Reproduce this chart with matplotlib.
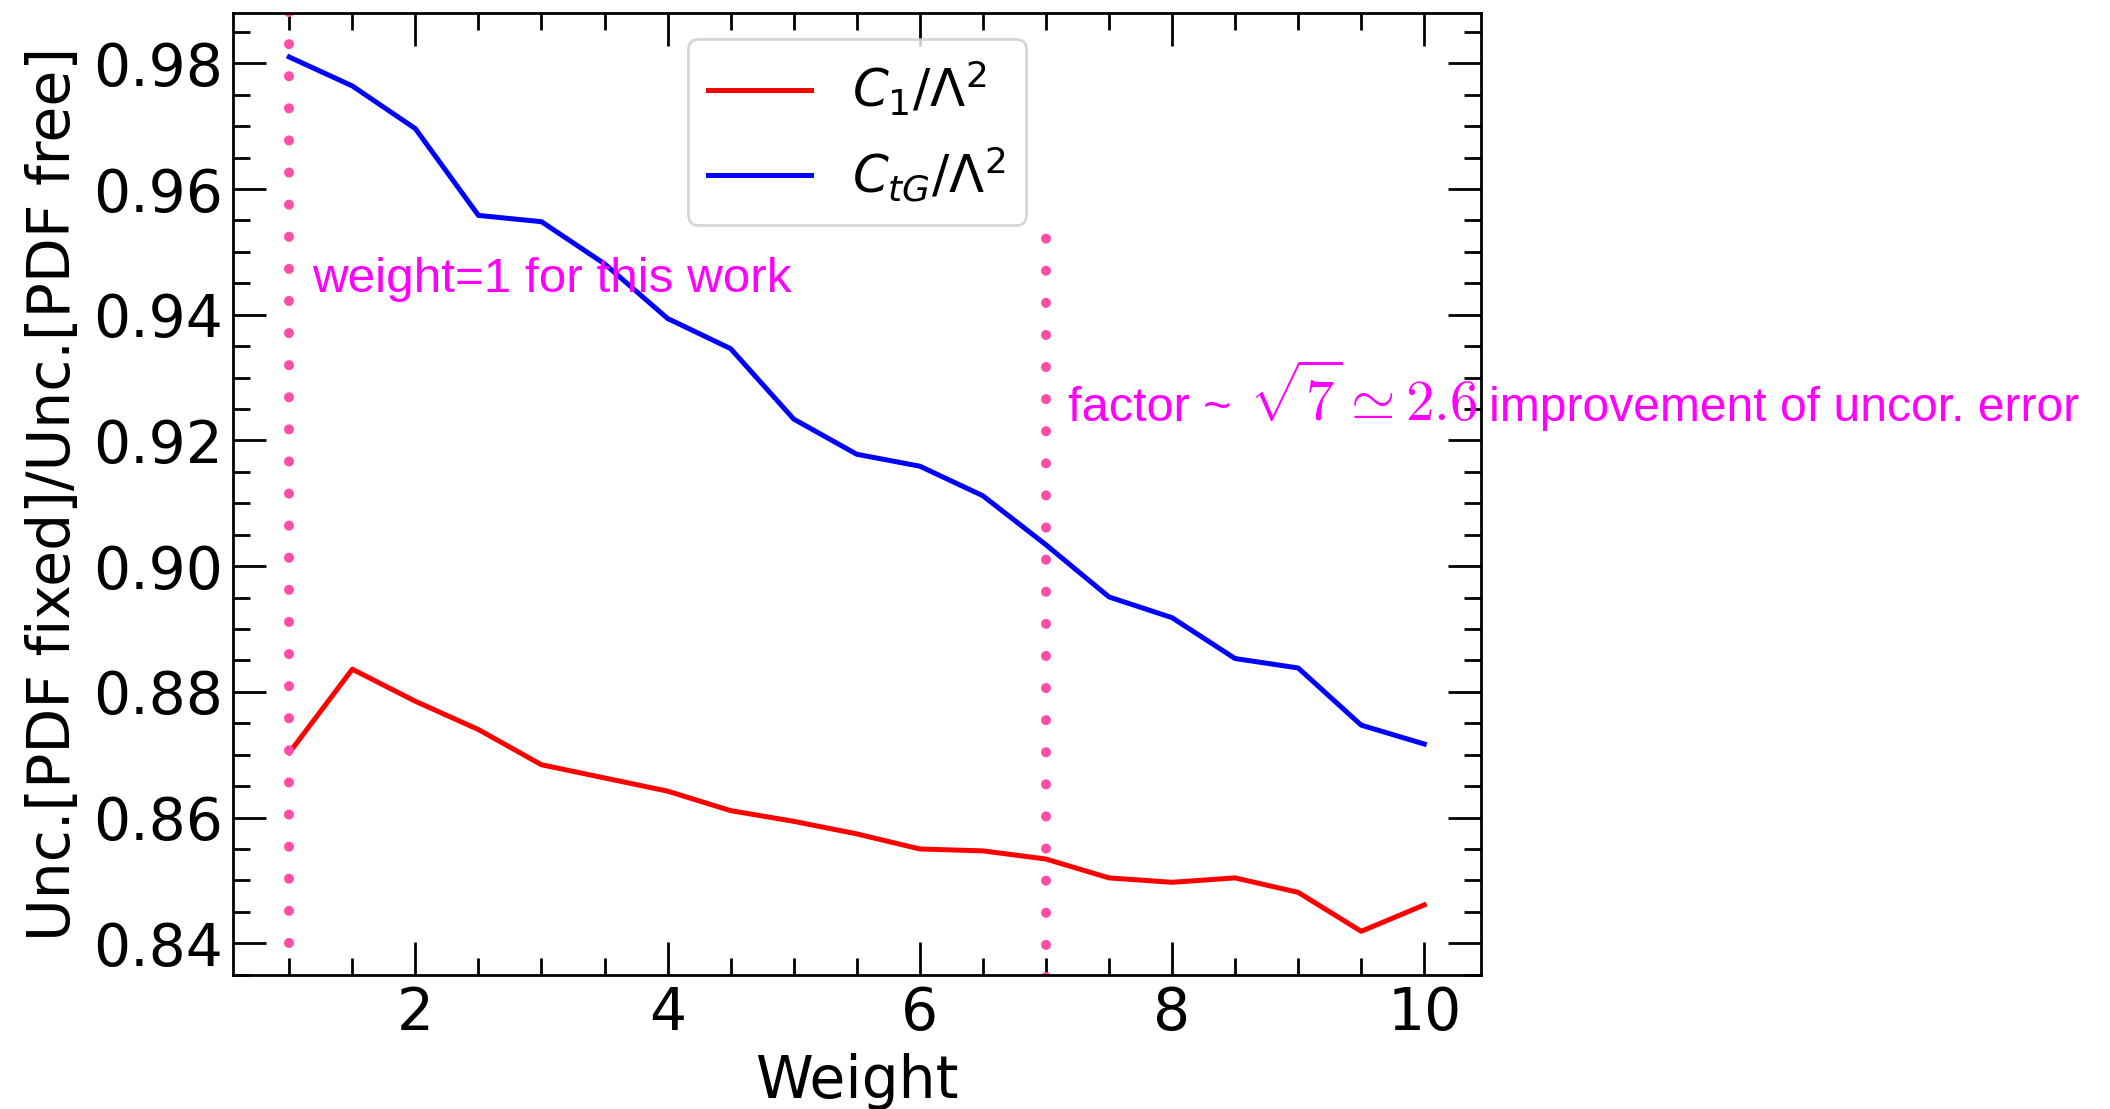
import numpy as np
import matplotlib
matplotlib.use("Agg")
import matplotlib.pyplot as plt
from matplotlib.ticker import MultipleLocator

# Weight scan and uncertainty ratios (PDF fixed / PDF free)
weights = [1.0, 1.5, 2.0, 2.5, 3.0, 3.5, 4.0, 4.5, 5.0, 5.5,
           6.0, 6.5, 7.0, 7.5, 8.0, 8.5, 9.0, 9.5, 10.0]
ratio_c1 = [0.8703, 0.8836, 0.8785, 0.8740, 0.8684, 0.8663, 0.8642, 0.8611, 0.8594, 0.8574,
            0.8550, 0.8547, 0.8534, 0.8504, 0.8497, 0.8504, 0.8481, 0.8419, 0.8461]
ratio_ctg = [0.9810, 0.9764, 0.9696, 0.9558, 0.9548, 0.9481, 0.9394, 0.9346, 0.9234, 0.9178,
             0.9159, 0.9112, 0.9034, 0.8951, 0.8918, 0.8853, 0.8838, 0.8747, 0.8717]
label_c1 = r"$C_1/\Lambda^2$"
label_ctg = r"$C_{tG}/\Lambda^2$"
x_ticks = [2, 4, 6, 8, 10]
y_ticks = [0.84, 0.86, 0.88, 0.90, 0.92, 0.94, 0.96, 0.98]

plt.rcParams["mathtext.fontset"] = "dejavusans"

fig = plt.figure(figsize=(10.55, 5.545), dpi=200)
ax = fig.add_axes([0.1102, 0.1208, 0.5917, 0.8672])

ax.plot(weights, ratio_c1, color="red", lw=1.8, label=label_c1)
ax.plot(weights, ratio_ctg, color="blue", lw=1.8, label=label_ctg)
ax.autoscale_view()
ax.autoscale(False)

# Reference weights marked with dotted verticals
dot_style = dict(color="#ff4da8", lw=3.6, linestyle=(0, (0.01, 3.2)),
                 capstyle="round")
ax.vlines(1, 0.84, 0.995, **dot_style)
ax.vlines(7, 0.8347, 0.9526, **dot_style)

ann_color = "magenta"
ann_font = "Liberation Sans"
ax.text(1.18, 0.9436, "weight=1 for this work", color=ann_color,
        fontsize=17.8, family=ann_font, ha="left", va="baseline")
ax.text(7.173, 0.9231, "factor ~", color=ann_color, fontsize=17.5,
        family=ann_font, ha="left", va="baseline", clip_on=False)
ax.text(8.613, 0.9231, r"$\sqrt{7}\simeq 2.6$", color=ann_color, fontsize=20.5,
        math_fontfamily="cm", ha="left", va="baseline", clip_on=False)
ax.text(10.51, 0.9231, "improvement of uncor. error", color=ann_color,
        fontsize=17.3, family=ann_font, ha="left", va="baseline", clip_on=False)

ax.set_xticks(x_ticks)
ax.set_yticks(y_ticks)
ax.set_yticklabels([f"{v:.2f}" for v in y_ticks])
ax.xaxis.set_minor_locator(MultipleLocator(0.5))
ax.yaxis.set_minor_locator(MultipleLocator(0.005))
ax.tick_params(which="both", direction="in", top=True, right=True,
               labelsize=21, width=1.0)
ax.tick_params(which="major", length=12)
ax.tick_params(which="minor", length=6)
for s in ax.spines.values():
    s.set_linewidth(1.0)

ax.set_xlabel("Weight", fontsize=21, labelpad=4)
ax.set_ylabel("Unc.[PDF fixed]/Unc.[PDF free]", fontsize=21)

ax.legend(loc="upper center", fontsize=18.5)

fig.savefig("out.png", dpi=200)
